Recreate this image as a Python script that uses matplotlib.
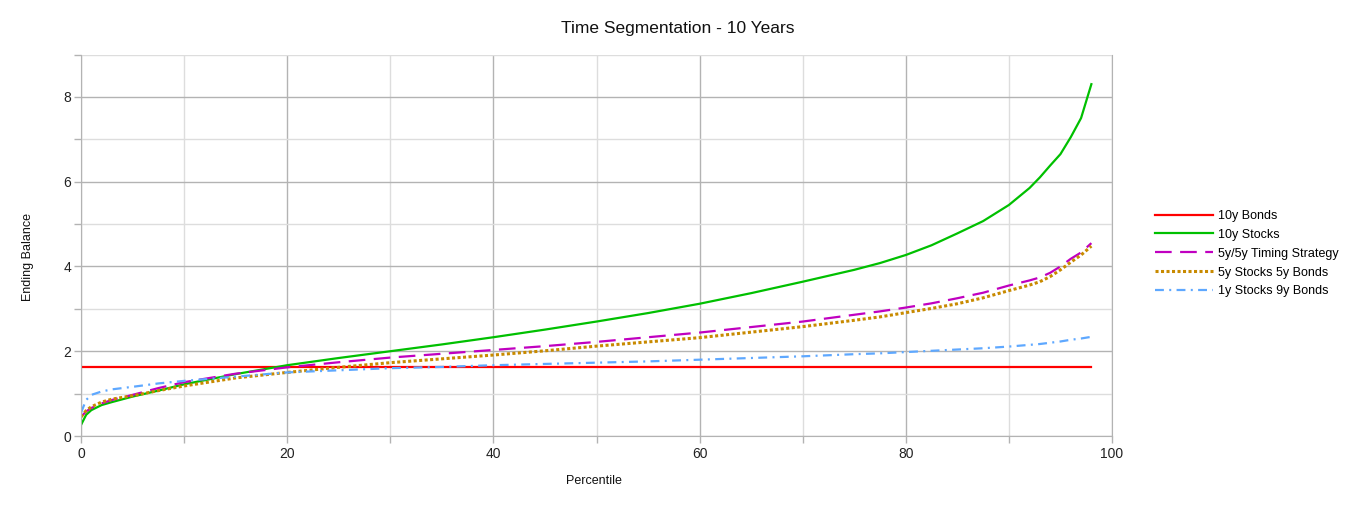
import matplotlib
matplotlib.use("Agg")
import matplotlib.pyplot as plt
from matplotlib.ticker import MultipleLocator

plt.rcParams['font.family'] = ['Liberation Sans', 'DejaVu Sans']

percentile = [0, 0.5, 1, 2, 3, 5, 7.5, 10, 15, 20, 25, 30, 35, 40, 45, 50, 55, 60,
              65, 70, 75, 77.5, 80, 82.5, 85, 87.5, 90, 92, 93, 94, 95, 96, 97, 98]

bonds_10y = [1.63] * len(percentile)

stocks_10y = [0.26, 0.50, 0.61, 0.73, 0.80, 0.93, 1.07, 1.22, 1.46, 1.67, 1.84, 2.00,
              2.16, 2.33, 2.51, 2.70, 2.90, 3.12, 3.37, 3.64, 3.92, 4.08, 4.27, 4.50,
              4.78, 5.07, 5.45, 5.85, 6.10, 6.38, 6.65, 7.05, 7.50, 8.30]

timing_5y5y = [0.45, 0.58, 0.66, 0.77, 0.85, 0.97, 1.13, 1.27, 1.47, 1.62, 1.74, 1.85,
               1.94, 2.03, 2.12, 2.22, 2.33, 2.44, 2.57, 2.70, 2.86, 2.94, 3.03, 3.13,
               3.25, 3.38, 3.55, 3.67, 3.74, 3.85, 4.00, 4.18, 4.33, 4.55]

stocks5_bonds5 = [0.45, 0.60, 0.69, 0.80, 0.87, 0.95, 1.07, 1.18, 1.37, 1.50, 1.62, 1.73,
                  1.82, 1.91, 2.01, 2.12, 2.22, 2.32, 2.45, 2.58, 2.73, 2.81, 2.91, 3.01,
                  3.12, 3.26, 3.43, 3.56, 3.64, 3.76, 3.92, 4.10, 4.27, 4.48]

stocks1_bonds9 = [0.55, 0.85, 0.97, 1.05, 1.10, 1.16, 1.24, 1.30, 1.40, 1.50, 1.55, 1.60,
                  1.63, 1.67, 1.70, 1.73, 1.76, 1.80, 1.84, 1.88, 1.93, 1.95, 1.98, 2.01,
                  2.04, 2.07, 2.11, 2.15, 2.17, 2.20, 2.23, 2.27, 2.30, 2.34]

series_labels = ["10y Bonds", "10y Stocks", "5y/5y Timing Strategy",
                 "5y Stocks 5y Bonds", "1y Stocks 9y Bonds"]

W, H = 1357, 508
fig = plt.figure(figsize=(W / 100, H / 100), dpi=100)
ax = fig.add_axes([81 / W, 1 - 436 / H, (1112 - 81) / W, (436 - 54.5) / H])

ax.plot(percentile, bonds_10y, color='#ff0000', lw=1.6, label=series_labels[0])
ax.plot(percentile, stocks_10y, color='#00c000', lw=1.6, label=series_labels[1])
ax.plot(percentile, timing_5y5y, color='#c000c0', lw=1.6, dashes=(7.5, 3.8),
        label=series_labels[2])
ax.plot(percentile, stocks5_bonds5, color='#c88a00', lw=2.2, dashes=(1, 0.8),
        label=series_labels[3])
ax.plot(percentile, stocks1_bonds9, color='#5ea8ff', lw=1.6, dashes=(4, 2.4, 0.9, 2.4),
        label=series_labels[4])

ax.set_xlim(0, 100)
ax.set_ylim(0, 9)
ax.xaxis.set_major_locator(MultipleLocator(20))
ax.xaxis.set_minor_locator(MultipleLocator(10))
ax.yaxis.set_major_locator(MultipleLocator(2))
ax.yaxis.set_minor_locator(MultipleLocator(1))
ax.grid(which='major', color='#b3b3b3', lw=1.0)
ax.grid(which='minor', color='#dddddd', lw=1.0)
ax.set_axisbelow(True)
for s in ['left', 'bottom', 'right']:
    ax.spines[s].set_color('#b3b3b3')
ax.spines['top'].set_visible(False)
ax.tick_params(which='both', color='#b3b3b3', length=5, width=1,
               labelsize=10, labelcolor='#222222')
ax.tick_params(axis='x', pad=3)
ax.tick_params(axis='y', pad=2)

fig.text(678 / W, 1 - 29 / H, "Time Segmentation - 10 Years", ha='center', va='center',
         fontsize=12.5, color='#111111')
fig.text(594 / W, 1 - 481 / H, "Percentile", ha='center', va='center', fontsize=9,
         color='#111111')
fig.text(28 / W, 1 - 257 / H, "Ending Balance", ha='center', va='center', fontsize=9,
         rotation=90, color='#111111')

fig.legend(loc='upper left', bbox_to_anchor=(1155 / W, 1 - 210 / H), frameon=False,
           fontsize=9, handlelength=4.6, handletextpad=0.4, labelspacing=0.55,
           borderpad=0, borderaxespad=0)

fig.savefig("out.png", dpi=100)
